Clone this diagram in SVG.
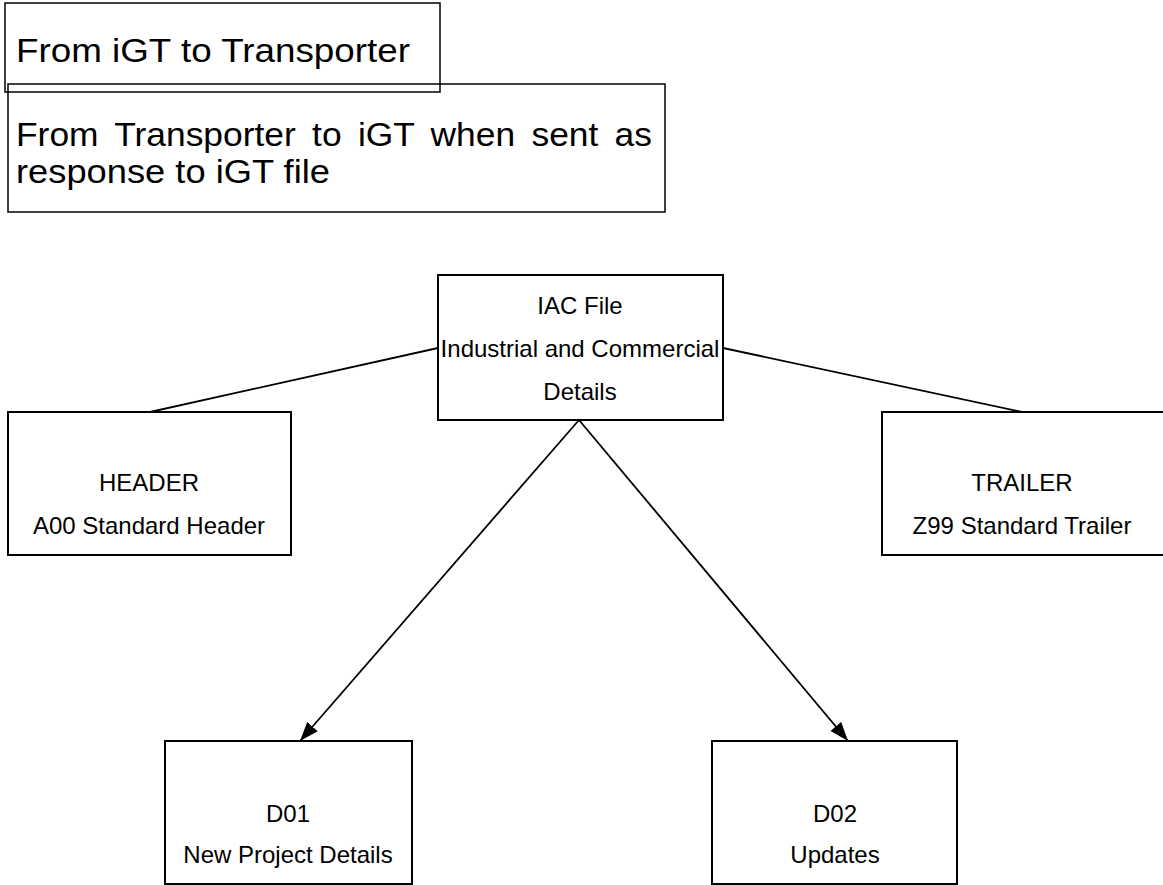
<svg xmlns="http://www.w3.org/2000/svg" width="1163" height="885" viewBox="0 0 1163 885">
<style>
.box{fill:none;stroke:#000;stroke-width:2}
.tbox{fill:none;stroke:#000;stroke-width:1.5}
.t{font-family:"Liberation Sans",Arial,sans-serif;font-size:24px;fill:#000;text-anchor:middle}
.title{font-family:"Liberation Sans",Arial,sans-serif;font-size:33px;fill:#000}
.con{fill:none;stroke:#000;stroke-width:1.8}
</style>
<defs>
<marker id="arr" markerWidth="19" markerHeight="14" refX="19" refY="7" orient="auto" markerUnits="userSpaceOnUse">
<path d="M0,0 L19,7 L0,14 Z" fill="#000"/>
</marker>
</defs>
<rect width="1163" height="885" fill="#fff"/>
<g id="legend1">
<rect class="tbox" x="5" y="3" width="435" height="89"/>
<text class="title" x="16" y="62" textLength="394" lengthAdjust="spacingAndGlyphs">From iGT to Transporter</text>
</g>
<g id="legend2">
<rect class="tbox" x="8" y="84" width="657" height="128"/>
<text class="title" x="16" y="146" word-spacing="6" textLength="636" lengthAdjust="spacingAndGlyphs">From Transporter to iGT when sent as</text>
<text class="title" x="16" y="183" textLength="314" lengthAdjust="spacingAndGlyphs">response to iGT file</text>
</g>
<g id="connectors">
<line class="con" x1="150" y1="412" x2="438" y2="348"/>
<line class="con" x1="1022" y1="412" x2="723" y2="348"/>
<line class="con" x1="579" y1="420" x2="300" y2="741" marker-end="url(#arr)"/>
<line class="con" x1="579" y1="420" x2="848" y2="741" marker-end="url(#arr)"/>
</g>
<g id="iac">
<rect class="box" x="438" y="275" width="285" height="145"/>
<text class="t" x="580" y="314">IAC File</text>
<text class="t" x="580" y="357">Industrial and Commercial</text>
<text class="t" x="580" y="400">Details</text>
</g>
<g id="header">
<rect class="box" x="8" y="412" width="283" height="143"/>
<text class="t" x="149" y="491">HEADER</text>
<text class="t" x="149" y="534">A00 Standard Header</text>
</g>
<g id="trailer">
<rect class="box" x="882" y="412" width="290" height="143"/>
<text class="t" x="1022" y="491">TRAILER</text>
<text class="t" x="1022" y="534">Z99 Standard Trailer</text>
</g>
<g id="d01">
<rect class="box" x="165" y="741" width="247" height="143"/>
<text class="t" x="288" y="822">D01</text>
<text class="t" x="288" y="863">New Project Details</text>
</g>
<g id="d02">
<rect class="box" x="712" y="741" width="245" height="143"/>
<text class="t" x="835" y="822">D02</text>
<text class="t" x="835" y="863">Updates</text>
</g>
</svg>
